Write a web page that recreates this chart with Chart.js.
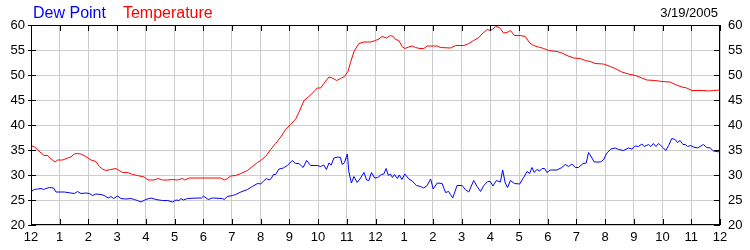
<!DOCTYPE html>
<html>
<head>
<meta charset="utf-8">
<script src="https://cdn.jsdelivr.net/npm/chart.js@4.4.1/dist/chart.umd.min.js"></script>
<style>
  body { margin: 0; background: #fff; }
  #wx { display: block; }
</style>
</head>
<body>
<canvas id="wx" width="750" height="250"></canvas>
<script>
// hour labels along the bottom, midnight to midnight
const hourLabels = ['12','1','2','3','4','5','6','7','8','9','10','11','12','1','2','3','4','5','6','7','8','9','10','11','12']

const tempHours = [0.00,0.12,0.23,0.35,0.46,0.58,0.70,0.84,0.93,1.10,1.28,1.39,1.51,1.62,1.74,1.91,2.09,2.26,2.38,2.49,2.61,2.78,2.96,3.07,3.19,3.36,3.54,3.71,3.94,4.08,4.29,4.43,4.58,4.76,4.93,5.10,5.28,5.36,5.51,5.80,6.26,6.61,6.73,6.84,6.96,7.13,7.31,7.54,7.71,7.89,
  8.00,8.17,8.35,8.52,8.70,8.87,9.04,9.22,9.33,9.51,9.68,9.86,9.97,10.09,10.20,10.38,10.49,10.65,10.78,10.92,11.04,11.13,11.25,11.42,11.60,11.83,12.00,12.12,12.23,12.39,12.52,12.62,12.70,12.81,12.93,13.02,13.16,13.28,13.39,13.55,13.68,13.80,14.15,14.26,14.61,14.79,15.08,15.25,15.42,15.60,15.71,15.89,
  16.00,16.09,16.19,16.32,16.46,16.58,16.70,16.84,17.04,17.22,17.37,17.51,17.68,17.86,18.03,18.32,18.49,18.67,18.90,19.13,19.31,19.48,19.65,19.94,20.18,20.35,20.58,20.81,21.05,21.28,21.45,21.74,21.97,22.26,22.44,22.67,22.84,23.02,23.42,23.60,23.77,24.00]
const tempValues = [35.9,35.6,35.1,34.4,33.9,33.9,33.2,32.6,33.0,33.0,33.4,33.6,34.2,34.3,34.2,33.7,33.0,32.7,31.7,31.2,30.9,31.1,31.3,30.9,30.5,30.5,30.1,29.9,29.6,29.0,29.0,29.3,29.0,29.0,29.1,29.0,29.3,29.0,29.4,29.4,29.4,29.4,29.0,29.3,29.8,29.9,30.3,30.9,31.7,32.5,
  32.9,33.7,35.1,36.3,37.6,39.1,40.1,41.2,42.5,44.9,45.7,46.7,47.4,47.4,48.3,49.6,49.4,48.9,49.3,49.7,50.7,52.5,54.7,56.3,56.6,56.6,56.9,57.2,57.7,57.4,57.9,57.7,57.1,56.9,55.7,55.3,55.6,55.8,55.5,55.3,55.3,55.8,55.8,55.5,55.4,55.9,55.9,56.3,56.9,57.5,58.2,59.1,
  58.9,59.2,59.7,59.5,58.4,58.5,58.9,57.9,57.9,57.7,56.4,55.9,55.6,55.3,54.9,54.7,54.4,53.9,53.4,53.3,52.9,52.7,52.3,52.2,51.7,51.3,50.6,50.2,49.9,49.4,49.0,48.9,48.7,48.6,48.1,47.6,47.4,46.9,46.9,46.8,46.9,47.0]

const dewHours = [0.00,0.12,0.23,0.35,0.44,0.52,0.64,0.79,0.87,1.16,1.39,1.51,1.62,1.74,1.91,2.03,2.15,2.26,2.44,2.55,2.69,2.78,2.88,3.02,3.13,3.31,3.48,3.60,3.71,3.83,4.00,4.18,4.35,4.58,4.76,4.93,5.05,5.16,5.22,5.31,5.45,5.80,5.94,6.01,6.17,6.32,6.67,6.73,6.84,7.02,7.13,7.31,7.54,7.71,7.89,
  8.00,8.12,8.21,8.29,8.37,8.44,8.52,8.64,8.79,8.93,9.10,9.22,9.33,9.48,9.60,9.74,9.97,10.09,10.20,10.29,10.38,10.46,10.55,10.69,10.78,10.84,10.92,11.02,11.07,11.16,11.25,11.36,11.48,11.60,11.69,11.77,11.86,11.97,12.08,12.20,12.29,12.37,12.45,12.52,12.59,12.66,12.76,12.83,12.92,13.02,13.16,13.28,13.43,13.57,13.68,13.80,13.92,14.01,14.15,14.32,14.44,14.55,14.61,14.69,14.84,15.02,15.13,15.25,15.42,15.54,15.66,15.77,15.91,
  16.00,16.09,16.21,16.35,16.43,16.52,16.60,16.70,16.84,17.02,17.16,17.28,17.37,17.45,17.53,17.62,17.72,17.80,17.89,17.97,18.09,18.32,18.49,18.61,18.73,18.84,18.96,19.07,19.23,19.34,19.42,19.54,19.62,19.83,19.94,20.06,20.20,20.35,20.47,20.64,20.81,20.93,21.05,21.16,21.28,21.36,21.51,21.59,21.68,21.77,21.86,21.94,22.03,22.11,22.21,22.32,22.44,22.52,22.61,22.71,22.79,22.87,22.98,23.08,23.22,23.42,23.54,23.66,23.77,24.00]
const dewValues = [26.7,27.1,27.2,27.3,27.1,27.3,27.5,27.4,26.6,26.6,26.4,26.3,26.7,26.3,26.4,26.3,25.9,26.2,26.1,25.9,25.4,25.7,25.3,25.8,25.3,25.2,25.3,25.1,24.9,24.6,25.1,25.4,25.1,24.9,24.9,24.6,25.0,24.9,25.3,25.0,25.3,25.4,25.4,25.8,25.1,25.4,25.3,25.1,25.7,25.9,26.1,26.6,27.1,27.7,28.3,
  28.2,28.9,29.3,29.0,29.3,30.1,30.1,31.2,31.4,31.9,32.9,32.3,32.3,31.5,32.9,31.9,31.9,31.7,32.0,31.1,32.4,32.0,33.4,33.6,33.5,32.1,32.5,34.2,30.7,28.4,29.7,28.5,29.4,30.5,29.0,28.9,30.5,29.4,29.5,30.1,30.2,31.3,29.9,30.2,29.5,30.1,29.3,30.0,29.1,30.2,29.2,28.8,27.9,27.7,27.4,27.9,29.2,27.2,28.4,28.3,26.5,26.7,26.1,25.4,27.9,27.9,27.1,26.6,28.9,27.7,26.7,27.9,28.7,
  28.7,27.8,28.9,28.6,31.0,28.4,27.5,28.9,28.3,28.2,29.5,30.7,30.3,31.5,30.5,31.1,30.8,31.3,31.3,30.5,31.0,31.0,31.5,32.1,31.7,32.2,31.5,31.5,32.3,32.4,34.5,33.4,32.6,32.6,33.0,34.4,35.2,35.4,35.1,34.9,35.4,35.2,35.8,35.7,36.2,35.7,36.1,35.7,36.3,35.7,36.3,35.9,35.4,34.9,35.9,37.3,37.1,36.5,36.9,36.1,36.1,35.7,35.9,35.6,35.4,36.1,35.5,35.4,34.8,34.6]

const dateText = '3/19/2005'

const toPoints = (hours, values) => hours.map((h, i) => ({ x: h, y: values[i] }))

// border box, inward tick marks, legend text and date
const framePlugin = {
    id: 'frame',
    afterDraw(chart) {
        const ctx = chart.ctx
        const a = chart.chartArea
        const xs = chart.scales.x
        const ys = chart.scales.y
        ctx.save()
        ctx.strokeStyle = '#000'
        ctx.lineWidth = 1
        ctx.strokeRect(a.left + 0.5, a.top + 0.5, a.right - a.left - 1, a.bottom - a.top - 1)
        ctx.beginPath()
        for (let h = 0; h <= 24; h++) {
            const px = Math.round(xs.getPixelForValue(h)) + 0.5
            ctx.moveTo(px, a.top)
            ctx.lineTo(px, a.top + 6)
            ctx.moveTo(px, a.bottom)
            ctx.lineTo(px, a.bottom - 6)
        }
        for (let v = 20; v <= 60; v += 5) {
            const py = Math.round(ys.getPixelForValue(v)) + 0.5
            ctx.moveTo(a.left - 3, py)
            ctx.lineTo(a.left + 5, py)
            ctx.moveTo(a.right - 6, py)
            ctx.lineTo(a.right, py)
        }
        ctx.stroke()

        ctx.textBaseline = 'alphabetic'
        ctx.font = '16px "Liberation Sans", Arial, sans-serif'
        let lx = 33
        chart.data.datasets.forEach(ds => {
            ctx.fillStyle = ds.borderColor
            ctx.fillText(ds.label, lx, 18)
            lx += ctx.measureText(ds.label).width + 17
        })
        ctx.font = '13px "Liberation Sans", Arial, sans-serif'
        ctx.fillStyle = '#000'
        ctx.textAlign = 'right'
        ctx.fillText(dateText, 718, 17)
        ctx.restore()
    }
}

const tickFont = { family: '"Liberation Sans", Arial, sans-serif', size: 13 }

const wxctx = document.getElementById('wx').getContext('2d')
const wxChart = new Chart(wxctx, {
    type: 'line',
    data: {
        datasets: [{
            label: 'Dew Point',
            data: toPoints(dewHours, dewValues),
            borderColor: '#0000ff',
            borderWidth: 1,
            pointRadius: 0,
            tension: 0,
            yAxisID: 'y'
        }, {
            label: 'Temperature',
            data: toPoints(tempHours, tempValues),
            borderColor: '#ff0000',
            borderWidth: 1,
            pointRadius: 0,
            tension: 0,
            yAxisID: 'y'
        }]
    },
    options: {
        responsive: false,
        animation: false,
        devicePixelRatio: 1,
        layout: { padding: { top: 25, left: 0, right: 0, bottom: 0 } },
        plugins: {
            legend: { display: false },
            tooltip: { enabled: false }
        },
        scales: {
            x: {
                type: 'linear',
                min: 0,
                max: 24,
                afterFit: s => { s.height = 25 },
                afterBuildTicks: s => { s.ticks = hourLabels.map((l, i) => ({ value: i })) },
                ticks: {
                    autoSkip: false,
                    maxRotation: 0,
                    padding: 5,
                    color: '#000',
                    font: tickFont,
                    callback: (v) => hourLabels[v]
                },
                grid: { color: '#cccccc', drawTicks: false },
                border: { display: false }
            },
            y: {
                position: 'left',
                min: 20,
                max: 60,
                afterFit: s => { s.width = 31 },
                ticks: { stepSize: 5, padding: 6, color: '#000', font: tickFont },
                grid: { color: '#cccccc', drawTicks: false },
                border: { display: false }
            },
            y2: {
                position: 'right',
                min: 20,
                max: 60,
                afterFit: s => { s.width = 30 },
                ticks: { stepSize: 5, padding: 8, color: '#000', font: tickFont },
                grid: { display: false, drawTicks: false },
                border: { display: false }
            }
        }
    },
    plugins: [framePlugin]
});
</script>
</body>
</html>
